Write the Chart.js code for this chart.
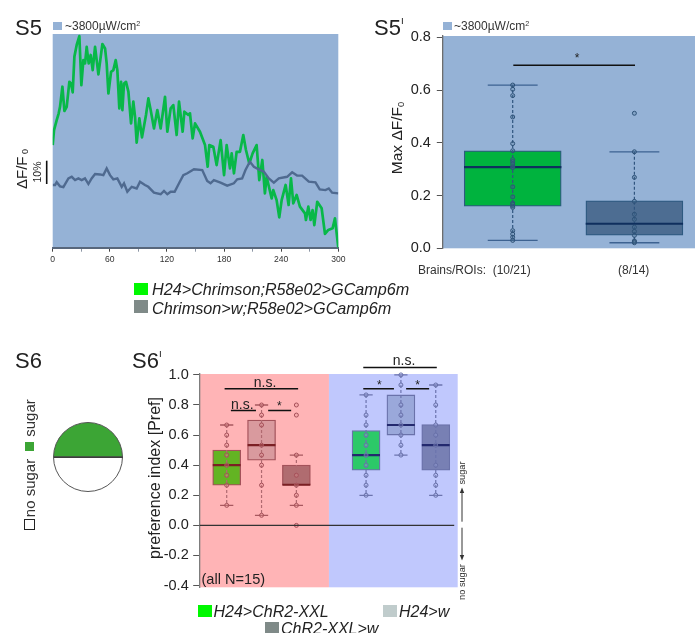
<!DOCTYPE html>
<html><head><meta charset="utf-8">
<script src="https://cdn.jsdelivr.net/npm/chart.js@4"></script>
<style>
html,body{margin:0;padding:0;background:#fff;width:695px;height:633px;overflow:hidden}
#w{position:relative;width:695px;height:633px;overflow:hidden;font-family:"Liberation Sans",Arial,sans-serif;color:#222;filter:blur(.35px)}
.c{position:absolute}
.t{position:absolute;white-space:nowrap;line-height:1}
.m{transform:translate(-50%,-50%)}
.r{transform:translate(-50%,-50%) rotate(-90deg)}
.s{position:absolute}
sub{font-size:60%;vertical-align:-.2em;line-height:0}
sup{font-size:60%;vertical-align:.55em;line-height:0}
sup.I{font-size:45%;vertical-align:1.1em}
i{font-style:italic}
</style></head><body><div id="w">
<div class="c" style="left:0;top:0;width:350px;height:275px"><canvas id="a"></canvas></div>
<div class="c" style="left:370px;top:10px;width:340px;height:280px"><canvas id="b"></canvas></div>
<div class="c" style="left:130px;top:345px;width:345px;height:260px"><canvas id="d"></canvas></div>
<div class="c" style="left:48px;top:417px;width:80px;height:80px"><canvas id="p"></canvas></div>

<svg class="c" style="left:0;top:0" width="695" height="633">
<line x1="46.7" y1="160.7" x2="46.7" y2="184" stroke="#111" stroke-width="1.6"/>
<line x1="462" y1="491" x2="462" y2="521.7" stroke="#333" stroke-width="1"/>
<polygon points="462,487.5 459.8,493 464.2,493" fill="#333"/>
<line x1="462" y1="527.7" x2="462" y2="557" stroke="#333" stroke-width="1"/>
<polygon points="462,560.5 459.8,555 464.2,555" fill="#333"/>
<line x1="54" y1="457.3" x2="122.5" y2="457.3" stroke="#222" stroke-width="1"/>
</svg>

<div class="t" style="left:15px;top:17px;font-size:22px">S5</div>
<div class="s" style="left:53px;top:21.5px;width:9px;height:8.5px;background:#95b2d6"></div>
<div class="t" style="left:65px;top:19.5px;font-size:12px;color:#333">~3800µW/cm<sup>2</sup></div>
<div class="t r" style="left:21px;top:169px;font-size:15px">ΔF/F<sub> 0</sub></div>
<div class="t r" style="left:37px;top:172px;font-size:10.5px">10%</div>
<div class="s" style="left:134px;top:283px;width:13.5px;height:12px;background:#00f800"></div>
<div class="s" style="left:134px;top:300px;width:13.5px;height:13px;background:#7f8a88"></div>
<div class="t" style="left:152px;top:281px;font-size:16.2px;color:#222"><i>H24&gt;Chrimson;R58e02&gt;GCamp6m</i></div>
<div class="t" style="left:152px;top:300px;font-size:16.2px;color:#222"><i>Chrimson&gt;w;R58e02&gt;GCamp6m</i></div>

<div class="t" style="left:374px;top:17px;font-size:22px">S5<sup class="I">I</sup></div>
<div class="s" style="left:442.5px;top:21.5px;width:9px;height:8.5px;background:#95b2d6"></div>
<div class="t" style="left:454px;top:19.5px;font-size:12px;color:#333">~3800µW/cm<sup>2</sup></div>
<div class="t r" style="left:397px;top:138px;font-size:15.5px">Max ΔF/F<sub>0</sub></div>
<div class="t" style="left:418px;top:263.5px;font-size:12px;color:#333;white-space:pre">Brains/ROIs:  (10/21)</div>
<div class="t" style="left:618px;top:263.5px;font-size:12px;color:#333">(8/14)</div>
<div class="t m" style="left:577px;top:58px;font-size:12px">*</div>

<div class="t" style="left:15px;top:350px;font-size:22px">S6</div>
<div class="s" style="left:24px;top:519px;width:9px;height:9px;border:1px solid #222;background:#fff"></div>
<div class="t r" style="left:29px;top:488px;font-size:15px;color:#333">no sugar</div>
<div class="s" style="left:25px;top:441.5px;width:9px;height:9px;background:#3ca535"></div>
<div class="t r" style="left:29px;top:418px;font-size:15px;color:#333">sugar</div>

<div class="t" style="left:132px;top:350px;font-size:22px">S6<sup class="I">I</sup></div>
<div class="t r" style="left:155px;top:478px;font-size:16px">preference index [Pref]</div>
<div class="t" style="left:201.5px;top:571.5px;font-size:14.6px">(all N=15)</div>
<div class="t m" style="left:265px;top:382px;font-size:14px">n.s.</div>
<div class="t m" style="left:242.3px;top:404px;font-size:14px">n.s.</div>
<div class="t m" style="left:279.3px;top:406px;font-size:12px">*</div>
<div class="t m" style="left:404px;top:360px;font-size:14px">n.s.</div>
<div class="t m" style="left:379.3px;top:385px;font-size:12px">*</div>
<div class="t m" style="left:417.7px;top:385px;font-size:12px">*</div>
<div class="t r" style="left:462.5px;top:473px;font-size:9.2px;color:#333">sugar</div>
<div class="t r" style="left:462.5px;top:581.5px;font-size:9.2px;color:#333">no sugar</div>
<div class="s" style="left:197.7px;top:605px;width:14px;height:12px;background:#00f800"></div>
<div class="t" style="left:213.5px;top:604px;font-size:16px"><i>H24&gt;ChR2-XXL</i></div>
<div class="s" style="left:382.7px;top:605px;width:14px;height:12px;background:#c0cccc"></div>
<div class="t" style="left:399px;top:604px;font-size:16px"><i>H24&gt;w</i></div>
<div class="s" style="left:265px;top:621.5px;width:13.5px;height:12px;background:#7f8a88"></div>
<div class="t" style="left:281px;top:620.5px;font-size:16px"><i>ChR2-XXL&gt;w</i></div>
</div>
<script>
// S5: time course
const greenSeconds=[0,1.4,4.2,6.3,7.7,10.2,12.3,14.7,17.5,19.3,21,22.8,25.2,28,30.1,32.2,34,35.7,37.8,39.9,42,44.5,48,52.2,55,56.7,58.5,61.3,63.7,66.2,67.9,70,71.8,73.2,74.9,77,79.5,82.3,84.7,86.5,88.2,91,93.8,98,100.5,102.9,106.4,109.9,113.4,118,120.4,123.9,126.7,130.2,132.7,136.5,138.3,142.5,144.2,147,149.5,154.7,160,162.8,164.5,168.7,172.2,176.4,180,182.7,186.2,188,190.4,193.2,196.7,200.2,203,206.5,210,214.2,217,220.2,222.9,224.7,230,231.7,235.2,238,240.5,244.7,247.8,250.3,252.7,256.2,259.7,265,266,268.5,270.9,273,274.8,277.9,282.5,286,289.5,294,296.5,300];
const greenValues=[44,50.4,54.7,57.6,60.4,69,58.6,60.4,71.1,70.4,66.6,81.9,86.9,90.7,69.7,80.4,79,86.1,79,82.6,76.1,86.1,74.3,87.3,85.4,79,66.1,75.4,76.1,80.4,76.1,59.7,71.1,59,70.4,71.1,66.9,53.3,62.6,56.1,45,55.4,47.3,56.9,64,59,51.1,59,51.1,64.7,49.7,59.7,61.1,48.3,62.6,49.7,58.3,56.9,57.6,46.9,53.3,49.7,44,34.7,44,43.3,35.4,46.1,31.1,44,34,40.4,31.9,41.1,41.1,48.3,41.9,36.1,40.4,44,29,37.6,23.3,30.4,21.1,24.7,20.4,13,20.4,26.9,18.3,29.7,19,22.6,17.6,14.7,11.9,17.6,11.9,16.1,9.7,19.7,16.9,5.9,7.6,8.3,12.6,0];
const graySeconds=[0,2.5,4.2,7.7,11.2,16.5,20,23.5,27,30.4,33.9,37.5,40.9,44.5,49.7,53.2,56.7,60.2,63.7,67.9,72.5,74.9,78.4,83,88.2,91.7,96.9,100.4,106.4,113.4,116.9,120.4,123.9,128.1,132.7,137.2,141.4,148.4,157.1,162.3,165.8,169.3,176.3,183.3,190.3,193.8,199,202.5,207.1,211.3,216.5,221.8,227,232.3,237.5,246.2,251.5,256.7,262,269,276,280.5,286.5,290,293.5,300];
const grayValues=[26.9,26.9,28.1,26.3,26,29.7,30.4,29,29.7,29,29.7,27.3,29.7,31.6,31.4,31.1,34,31.1,29.3,29.7,26.1,27.6,24,26.1,25.4,28.3,26.9,26.1,23.6,22.9,24.3,22.9,24,24,27.6,31.1,31.9,33.6,33.3,28.6,27.6,29,27.9,26.6,27.6,29.3,29.7,33.3,36.9,34.7,33.6,32.6,29.7,27.9,29.7,30.4,32.3,30.9,30.9,28.3,28,25,24.7,25.4,23.6,23.3];

// S5': boxes
const s5bCenters=[1,2];
const s5bQ1=[0.16,0.05], s5bQ3=[0.37,0.18], s5bMedian=[0.308,0.093], s5bLow=[0.03,0.021], s5bHigh=[0.619,0.366];
const s5bPoints1=[0.619,0.603,0.579,0.498,0.397,0.37,0.336,0.329,0.32,0.31,0.306,0.233,0.195,0.172,0.167,0.16,0.155,0.067,0.054,0.042,0.03];
const s5bPoints2=[0.512,0.366,0.269,0.178,0.129,0.11,0.08,0.064,0.049,0.028,0.025,0.021];

// S6': boxes
const redCenters=[1,2,3], blueCenters=[5,6,7];
const redQ1=[0.267,0.433,0.267], redQ3=[0.5,0.7,0.4], redMedian=[0.4,0.533,0.27], redLow=[0.133,0.067,0.133], redHigh=[0.667,0.8,0.467];
const blueQ1=[0.367,0.6,0.367], blueQ3=[0.63,0.867,0.67], blueMedian=[0.467,0.667,0.533], blueLow=[0.2,0.467,0.2], blueHigh=[0.867,1,0.933];
const redPoints=[[0.133,0.267,0.333,0.4,0.467,0.533,0.6,0.667],[0.067,0.267,0.4,0.467,0.533,0.667,0.733,0.8],[0,0.133,0.2,0.267,0.333,0.467,0.733,0.8]];
const bluePoints=[[0.2,0.267,0.333,0.4,0.467,0.533,0.6,0.667,0.733,0.867],[0.467,0.533,0.6,0.667,0.733,0.8,0.933,1],[0.2,0.267,0.333,0.4,0.533,0.6,0.667,0.8,0.933]];
const s6Significance=[[0.94,3.05,0.908],[1.12,1.84,0.764],[2.19,2.85,0.764],[4.92,7.03,1.049],[4.92,5.8,0.908],[6.15,6.81,0.908]];
const s5Significance=[[1.005,2.005,0.694]];
const arenaShares=[50,50];
const secondTicks=30;

const FONT='"Liberation Sans", Arial, sans-serif';
Chart.defaults.animation=false;
Chart.defaults.responsive=true;
Chart.defaults.maintainAspectRatio=false;
Chart.defaults.plugins.legend.display=false;
Chart.defaults.plugins.tooltip.enabled=false;
Chart.defaults.font.family=FONT;

const bg=(color)=>({id:'bg',beforeDraw(c){const a=c.chartArea,x=c.ctx;x.save();x.fillStyle=color;x.fillRect(a.left,a.top,a.width,a.height);x.restore();}});
const bgSplit={id:'bgs',beforeDraw(c){const a=c.chartArea,x=c.ctx,m=c.scales.x.getPixelForValue(3.935);x.save();x.fillStyle='#ffb4b6';x.fillRect(a.left,a.top,m-a.left,a.height);x.fillStyle='#c0c8fd';x.fillRect(m,a.top,a.right-m,a.height);x.restore();}};

const line=(data,color,width,order,extra={})=>Object.assign({type:'line',data,borderColor:color,borderWidth:width,pointRadius:0,tension:0,order,clip:false,spanGaps:false},extra);
const segs=(list)=>{const out=[];list.forEach(s=>{out.push({x:s[0],y:s[2]},{x:s[1],y:s[2]},{x:s[1],y:null});});return out;};
function boxSets(centers,med,lo,hi,pts,o){
  const sets=[];
  const wh=[];centers.forEach((c,i)=>wh.push({x:c,y:hi[i]},{x:c,y:lo[i]},{x:c,y:null}));
  sets.push(line(wh,o.whisker,1.2,3,{borderDash:[3,2]}));
  sets.push(line(segs(centers.flatMap((c,i)=>[[c-o.cap,c+o.cap,lo[i]],[c-o.cap,c+o.cap,hi[i]]])),o.capColor,1.3,6));
  sets.push(line(segs(centers.map((c,i)=>[c-o.box,c+o.box,med[i]])),o.median,2.2,2));
  pts.forEach((p,i)=>sets.push({type:'scatter',data:p.map(v=>({x:centers[i],y:v})),pointRadius:o.r,borderWidth:1,pointBorderColor:o.ptBorder,pointBackgroundColor:o.ptFill,order:1,clip:false}));
  return sets;
}
const bars=(centers,q1,q3,colors,border,th,order)=>({type:'bar',data:centers.map((c,i)=>({x:c,y:[q1[i],q3[i]]})),backgroundColor:colors,borderColor:border,borderWidth:1.3,borderSkipped:false,barThickness:th,grouped:false,order});

// S5
new Chart(document.getElementById('a'),{type:'line',
 data:{datasets:[
  {data:grayValues.map((v,i)=>({x:graySeconds[i],y:v})),borderColor:'#4f6a90',borderWidth:2.4,pointRadius:0,tension:0,order:1},
  {data:greenValues.map((v,i)=>({x:greenSeconds[i],y:v})),borderColor:'#08b848',borderWidth:2.7,pointRadius:0,tension:0,order:2,borderJoinStyle:'round'}]},
 options:{layout:{padding:{left:52.7,top:34,right:11.7,bottom:7.3}},
  scales:{
   x:{type:'linear',min:0,max:300,afterFit(s){s.height=20;},
      ticks:{stepSize:secondTicks,autoSkip:false,maxRotation:0,padding:3,color:'#333',font:{size:8.6},callback:v=>v%60===0?String(v):''},
      grid:{drawOnChartArea:false,tickLength:4,tickColor:c=>c.tick&&c.tick.value%60===0?'#444':'#8d96a5'},
      border:{color:'#58677c',width:2}},
   y:{type:'linear',min:0,max:91.6,display:false}}},
 plugins:[bg('#95b2d6')]});

// S5'
const s5Opts={cap:0.205,box:0.4,r:2,whisker:'#30557f',capColor:'#3d6291',median:'#0f2f5e',ptBorder:'#2e5278',ptFill:'rgba(80,120,150,.25)'};
new Chart(document.getElementById('b'),{type:'bar',
 data:{datasets:[
  bars(s5bCenters,s5bQ1,s5bQ3,['#00b33e','#4d6d92'],'#2e5a80',97,5),
  ...boxSets(s5bCenters,s5bMedian,s5bLow,s5bHigh,[s5bPoints1,s5bPoints2],s5Opts),
  line(segs(s5Significance),'#111',1.5,0)]},
 options:{layout:{padding:{left:32.3,top:26,right:15,bottom:41.7}},
  scales:{
   x:{type:'linear',min:0.4215,max:2.498,display:false,offset:false},
   y:{type:'linear',min:0,max:0.805,afterFit(s){s.width=40;},
      ticks:{stepSize:0.2,includeBounds:false,padding:6,color:'#222',font:{size:14.5},callback:v=>Math.abs(v).toFixed(1)},
      grid:{drawOnChartArea:false,tickLength:5.5,tickColor:'#555'},
      border:{color:'#6d6d6d',width:1.3}}}},
 plugins:[bg('#95b2d6')]});

// S6'
const redOpts={cap:0.19,box:0.4,r:2,whisker:'#b06a70',capColor:'#a8585f',median:'#7b2024',ptBorder:'#a65059',ptFill:'rgba(230,150,150,.3)'};
const blueOpts={cap:0.19,box:0.4,r:2,whisker:'#6c74ae',capColor:'#6c74ae',median:'#23296e',ptBorder:'#6870a8',ptFill:'rgba(160,170,225,.3)'};
new Chart(document.getElementById('d'),{type:'bar',
 data:{datasets:[
  bars(redCenters,redQ1,redQ3,['#63b423','#d99a9e','#b06c70'],'#a3525a',28,5),
  bars(blueCenters,blueQ1,blueQ3,['#2cc968','#9aa8da','#7880b4'],'#6a72aa',28,5),
  ...boxSets(redCenters,redMedian,redLow,redHigh,redPoints,redOpts),
  ...boxSets(blueCenters,blueMedian,blueLow,blueHigh,bluePoints,blueOpts),
  line(segs(s6Significance),'#111',1.5,0),
  line([{x:0.225,y:0},{x:7.53,y:0}],'#333',1.3,0)]},
 options:{layout:{padding:{left:19.7,top:29,right:17.3,bottom:17.7}},
  scales:{
   x:{type:'linear',min:0.225,max:7.63,display:false,offset:false},
   y:{type:'linear',min:-0.4115,max:1.006,afterFit(s){s.width=50;},
      ticks:{stepSize:0.2,includeBounds:false,padding:4.5,color:'#222',font:{size:14.5},callback:v=>(Math.abs(v)<1e-6?0:v).toFixed(1)},
      grid:{drawOnChartArea:false,tickLength:6.5,tickColor:'#555'},
      border:{color:'#7d7d7d',width:1.3}}}},
 plugins:[bgSplit]});

// S6 arena
new Chart(document.getElementById('p'),{type:'pie',
 data:{datasets:[{data:arenaShares,backgroundColor:['#3ca535','#ffffff'],borderColor:'#555',borderWidth:1}]},
 options:{rotation:-90,radius:34.5,layout:{padding:0}}});
</script>
</body></html>
